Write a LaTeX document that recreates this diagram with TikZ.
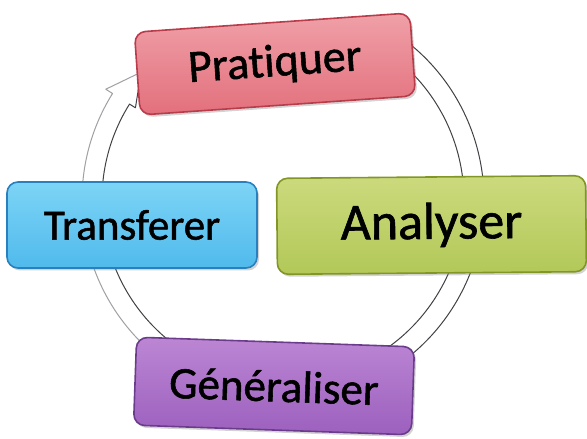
\documentclass[tikz,border=0pt]{standalone}
\usepackage{fontspec}
\setmainfont[Ligatures=NoCommon,FakeBold=1.2]{Carlito}
\usetikzlibrary{shadows}
\definecolor{pratTop}{RGB}{240,160,168}
\definecolor{pratBot}{RGB}{226,112,124}
\definecolor{pratLine}{RGB}{185,60,75}
\definecolor{tranTop}{RGB}{125,212,246}
\definecolor{tranBot}{RGB}{80,186,236}
\definecolor{tranLine}{RGB}{40,128,190}
\definecolor{anaTop}{RGB}{204,218,125}
\definecolor{anaBot}{RGB}{178,200,88}
\definecolor{anaLine}{RGB}{130,150,40}
\definecolor{genTop}{RGB}{188,134,212}
\definecolor{genBot}{RGB}{156,96,190}
\definecolor{genLine}{RGB}{108,60,140}
\definecolor{ringDark}{RGB}{65,65,70}
\definecolor{ringLight}{RGB}{160,160,165}
\begin{document}
\begin{tikzpicture}[x=1pt,y=1pt,
  stagebox/.style={rounded corners=11pt, line width=1.6pt, inner sep=0pt,
    drop shadow={shadow xshift=2pt,shadow yshift=-2.5pt,opacity=0.35}, text=black},
  ringline/.style={line width=1pt, line join=round}]
\useasboundingbox (0,0) rectangle (587,439);
% circular arrow band
\begin{scope}[shift={(283,239)}]
  \fill[white] (60:201) arc[start angle=60,end angle=-212,radius=201]
     -- (-212:209) -- (-222:191) -- (-212:174) -- (-212:181)
     arc[start angle=-212,end angle=60,radius=181] -- cycle;
  \draw[ringline,ringDark] (60:201) arc[start angle=60,end angle=-100,radius=201];
  \draw[ringline,ringLight] (-100:201) arc[start angle=-100,end angle=-212,radius=201]
     -- (-212:209) -- (-222:191);
  \draw[ringline,ringDark] (-222:191) -- (-212:174) -- (-212:181)
     arc[start angle=-212,end angle=60,radius=181];
\end{scope}
% stages
\node[stagebox, draw=pratLine, top color=pratTop, bottom color=pratBot,
  minimum width=276pt, minimum height=83pt, rotate=4,
  font=\fontsize{46}{50}\selectfont] (prat) at (275,375) {Pratiquer};
\node[stagebox, draw=anaLine, top color=anaTop, bottom color=anaBot,
  minimum width=309pt, minimum height=96pt, rotate=0.5,
  font=\fontsize{52}{56}\selectfont] (ana) at (431.5,214) {Analyser};
\node[stagebox, draw=tranLine, top color=tranTop, bottom color=tranBot,
  minimum width=250pt, minimum height=86pt,
  font=\fontsize{43}{46}\selectfont] (tran) at (132,214) {Transferer};
\node[stagebox, draw=genLine, top color=genTop, bottom color=genBot,
  minimum width=278pt, minimum height=88pt, rotate=-2,
  font=\fontsize{45}{50}\selectfont] (gen) at (274,53) {Généraliser};
\end{tikzpicture}
\end{document}
